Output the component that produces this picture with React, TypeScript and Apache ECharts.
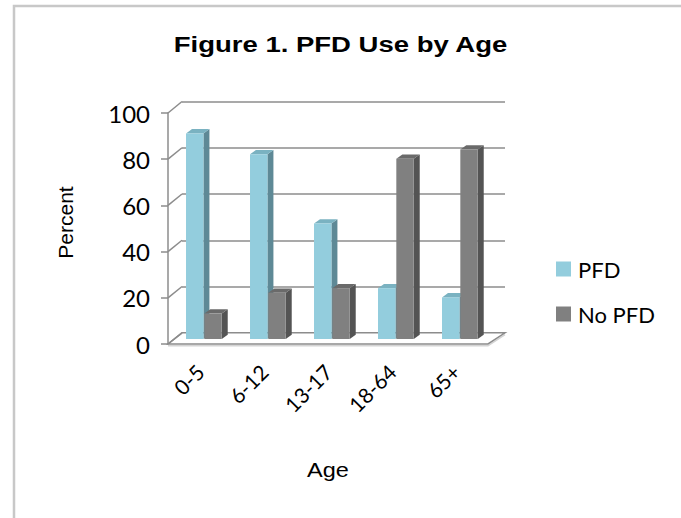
import React, { useEffect, useRef } from "react";
import * as echarts from "echarts";

// Age groups and the share of each group using / not using a PFD (percent)
const categories = ["0-5", "6-12", "13-17", "18-64", "65+"];
const pfdValues = [89, 80, 50, 22, 18];
const noPfdValues = [11, 20, 22, 78, 82];
const seriesNames = ["PFD", "No PFD"];
const yTicks = [0, 20, 40, 60, 80, 100];

// Face colours for the pseudo-3D columns: front, side, top
const FACES = [
  { front: "#93CDDD", side: "#5E8996", top: "#7AB2C1" },
  { front: "#808080", side: "#545454", top: "#6A6A6A" },
];

// Front plane (axis + floor edge) and back wall of the plot box
const FRONT = { left: 168, top: 113, width: 320, height: 231 };
const BACK = { left: 182, top: 101.5, width: 323, height: 231.3 };
// Columns stand part way into the box
const BAR_SHIFT = { dx: 4, dy: -5 };
// Depth of each column's own side/top faces
const BAR_DEPTH = { dx: 6, dy: -4.3 };
const BAR_W = 0.272;
const BAR_OFFSETS = [0.219, 0.505];

const FONT_LABEL = "Lato";
const FONT_TITLE = "'Liberation Sans', Arial, sans-serif";
const GRID_COLOR = "#8C8C8C";

function makeColumnRenderer(seriesIdx: number) {
  const faces = FACES[seriesIdx];
  return (params: any, api: any) => {
    const cat = api.value(0);
    const v = api.value(1);
    const band = api.size([1, 0])[0];
    const base = api.coord([cat, 0]);
    const top = api.coord([cat, v]);
    const x0 = base[0] - band / 2 + band * BAR_OFFSETS[seriesIdx] + BAR_SHIFT.dx;
    const w = band * BAR_W;
    const yb = base[1] + BAR_SHIFT.dy;
    const yt = top[1] + BAR_SHIFT.dy;
    const { dx, dy } = BAR_DEPTH;
    return {
      type: "group",
      children: [
        {
          type: "polygon",
          shape: { points: [[x0 + w, yt], [x0 + w + dx, yt + dy], [x0 + w + dx, yb + dy], [x0 + w, yb]] },
          style: { fill: faces.side },
        },
        {
          type: "polygon",
          shape: { points: [[x0, yt], [x0 + dx, yt + dy], [x0 + w + dx, yt + dy], [x0 + w, yt]] },
          style: { fill: faces.top },
        },
        {
          type: "rect",
          shape: { x: x0, y: yt, width: w, height: yb - yt },
          style: { fill: faces.front },
        },
      ],
    };
  };
}

export default function App() {
  const ref = useRef<HTMLDivElement>(null);

  useEffect(() => {
    if (!ref.current) return;
    const chart = echarts.init(ref.current, undefined, { renderer: "svg" });

    const series = [pfdValues, noPfdValues].map((vals, i) => ({
      name: seriesNames[i],
      type: "custom",
      xAxisIndex: 0,
      yAxisIndex: 0,
      z: 3,
      itemStyle: { color: FACES[i].front },
      renderItem: makeColumnRenderer(i),
      encode: { x: 0, y: 1 },
      data: vals.map((v, c) => [c, v]),
    }));

    chart.setOption({
      animation: false,
      backgroundColor: "#ffffff",
      grid: [
        { left: FRONT.left, top: FRONT.top, width: FRONT.width, height: FRONT.height },
        { left: BACK.left, top: BACK.top, width: BACK.width, height: BACK.height },
      ],
      xAxis: [
        {
          type: "category",
          gridIndex: 0,
          data: categories,
          axisLine: { show: false },
          axisTick: { show: false },
          axisLabel: {
            rotate: 45,
            margin: 24,
            fontFamily: FONT_LABEL,
            fontSize: 21,
            color: "#000000",
          },
        },
        {
          type: "category",
          gridIndex: 1,
          data: categories,
          show: false,
        },
      ],
      yAxis: [
        {
          type: "value",
          gridIndex: 0,
          min: 0,
          max: 100,
          interval: 20,
          axisLine: { show: true, lineStyle: { color: GRID_COLOR, width: 1.5 } },
          axisTick: { show: true, length: 7, lineStyle: { color: GRID_COLOR, width: 1.5 } },
          splitLine: { show: false },
          axisLabel: {
            margin: 18,
            fontFamily: FONT_LABEL,
            fontSize: 24,
            color: "#000000",
          },
        },
        {
          type: "value",
          gridIndex: 1,
          min: 0,
          max: 100,
          interval: 20,
          axisLine: { show: false },
          axisTick: { show: false },
          axisLabel: { show: false },
          splitLine: { show: true, lineStyle: { color: GRID_COLOR, width: 1.5 } },
        },
      ],
      legend: {
        orient: "vertical",
        left: 556,
        top: 258,
        padding: 0,
        itemWidth: 15,
        itemHeight: 15,
        itemGap: 23,
        icon: "rect",
        data: seriesNames,
        textStyle: { fontFamily: FONT_LABEL, fontSize: 22, color: "#000000", padding: [0, 0, 0, 2] },
      },
      series,
    });

    // Side wall and floor drawn from the axes' own pixel positions
    const frontY = (v: number) => chart.convertToPixel({ gridIndex: 0 }, [0, v])[1];
    const backY = (v: number) => chart.convertToPixel({ gridIndex: 1 }, [0, v])[1];
    const frontRight = FRONT.left + FRONT.width;
    const backRight = BACK.left + BACK.width;
    const lineStyle = { stroke: GRID_COLOR, lineWidth: 1.5 };

    const wallLines = yTicks.map((v) => ({
      type: "line",
      z: 1,
      shape: { x1: FRONT.left, y1: frontY(v), x2: BACK.left, y2: backY(v) },
      style: lineStyle,
    }));

    const f0 = frontY(0);
    const b0 = backY(0);

    chart.setOption({
      graphic: [
        {
          type: "rect",
          z: 0,
          shape: { x: 14, y: 6, width: 720, height: 560 },
          style: { fill: "none", stroke: "#C8C8C8", lineWidth: 2.5 },
        },
        {
          type: "text",
          x: 340.5,
          y: 44.5,
          scaleX: 1.25,
          style: {
            text: "Figure 1. PFD Use by Age",
            font: `bold 22px ${FONT_TITLE}`,
            fill: "#000000",
            textAlign: "center",
            textVerticalAlign: "middle",
          },
        },
        {
          type: "text",
          x: 65,
          y: 222.5,
          rotation: Math.PI / 2,
          style: {
            text: "Percent",
            font: `21px ${FONT_TITLE}`,
            fill: "#000000",
            textAlign: "center",
            textVerticalAlign: "middle",
          },
        },
        {
          type: "text",
          x: 328,
          y: 470,
          scaleX: 1.12,
          style: {
            text: "Age",
            font: `21px ${FONT_TITLE}`,
            fill: "#000000",
            textAlign: "center",
            textVerticalAlign: "middle",
          },
        },
        // floor slab: soft under-edge, then the outlined floor
        {
          type: "polyline",
          z: 1,
          shape: { points: [[FRONT.left, f0 + 1.8], [frontRight, f0 + 1.8], [backRight, b0 + 1.8]] },
          style: { stroke: "#D4D4D4", lineWidth: 1.5, fill: "none" },
        },
        {
          type: "polygon",
          z: 1,
          shape: { points: [[FRONT.left, f0], [frontRight, f0], [backRight, b0], [BACK.left, b0]] },
          style: { fill: "#FFFFFF", stroke: GRID_COLOR, lineWidth: 1.5 },
        },
        ...wallLines,
      ],
    });

    return () => chart.dispose();
  }, []);

  return (
    <div
      ref={ref}
      style={{ position: "absolute", left: 0, top: 0, width: 681, height: 518 }}
    />
  );
}
